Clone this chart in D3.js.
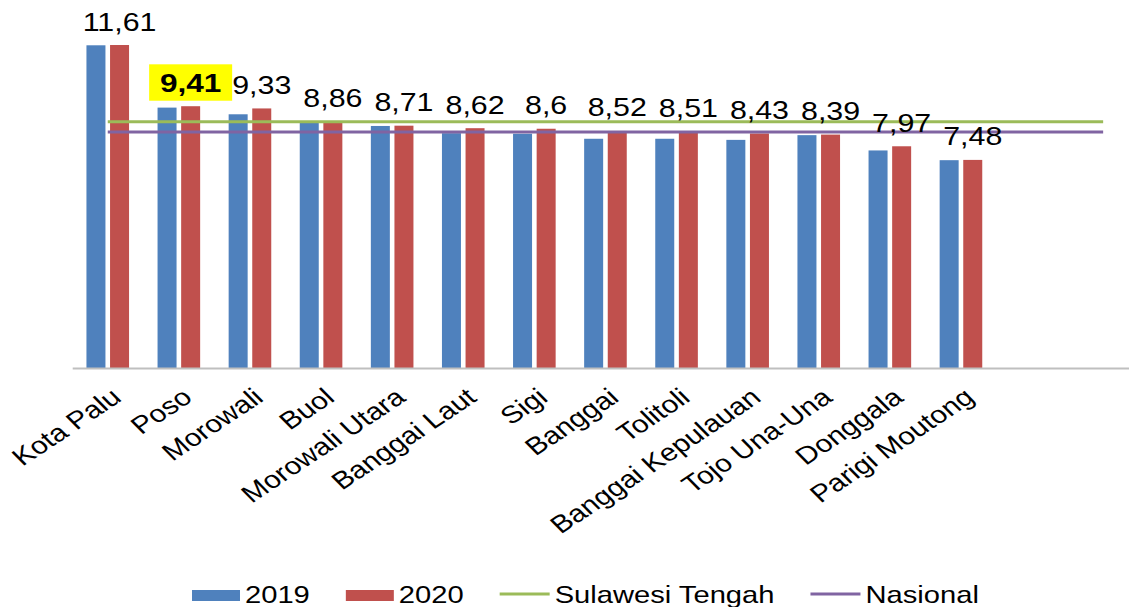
<!DOCTYPE html>
<html>
<head>
<meta charset="utf-8">
<script src="https://cdn.jsdelivr.net/npm/d3@7"></script>
<style>
  html, body { margin: 0; padding: 0; background: #fff; }
  svg { display: block; }
  text { font-family: "Liberation Sans", Arial, Helvetica, sans-serif; fill: #000; }
</style>
</head>
<body>
<svg id="chart" width="1129" height="607"></svg>
<script>
// Rata-rata lama sekolah per kabupaten/kota, Sulawesi Tengah
const categories = ["Kota Palu", "Poso", "Morowali", "Buol", "Morowali Utara", "Banggai Laut",
  "Sigi", "Banggai", "Tolitoli", "Banggai Kepulauan", "Tojo Una-Una", "Donggala", "Parigi Moutong", "", ""];
const values2019 = [11.60, 9.36, 9.12, 8.82, 8.70, 8.44, 8.42, 8.24, 8.24, 8.20, 8.37, 7.82, 7.47];
const values2020 = [11.61, 9.41, 9.33, 8.86, 8.71, 8.62, 8.60, 8.52, 8.51, 8.43, 8.39, 7.97, 7.48];
const sulawesiTengah = [8.85, 8.85, 8.85, 8.85, 8.85, 8.85, 8.85, 8.85, 8.85, 8.85, 8.85, 8.85, 8.85, 8.85, 8.85];
const nasional = [8.48, 8.48, 8.48, 8.48, 8.48, 8.48, 8.48, 8.48, 8.48, 8.48, 8.48, 8.48, 8.48, 8.48, 8.48];
const barSeries = ["2019", "2020"];
const lineSeries = ["Sulawesi Tengah", "Nasional"];
const highlighted = ["Poso"];

const colors = { "2019": "#4F81BD", "2020": "#C0504D", "Sulawesi Tengah": "#9BBB59", "Nasional": "#8064A2" };
const SX = 1.215;               // horizontal text stretch

const svg = d3.select("#chart");
const idx = d3.range(categories.length);

const x = d3.scaleBand().domain(idx).range([72.2, 1138.7]).paddingInner(0).paddingOuter(0);
const xs = d3.scaleBand().domain(barSeries).range([14.25, 56.85]).paddingInner(0.195).paddingOuter(0);
const y = d3.scaleLinear().domain([0, 12]).range([368, 368 - 12 * 27.82]);

const barData = values2019.map((v, i) => ({ i, name: categories[i], "2019": v, "2020": values2020[i] }));

// bars
const groups = svg.append("g").selectAll("g")
  .data(barData).join("g")
  .attr("transform", d => `translate(${x(d.i)},0)`);
groups.selectAll("rect")
  .data(d => barSeries.map(k => ({ k, v: d[k] })))
  .join("rect")
  .attr("x", d => xs(d.k))
  .attr("width", xs.bandwidth())
  .attr("y", d => y(d.v))
  .attr("height", d => y(0) - y(d.v))
  .attr("fill", d => colors[d.k]);

// category axis
const axis = svg.append("g").attr("transform", `translate(0,${y(0)})`)
  .call(d3.axisBottom(x).tickSize(0).tickFormat(""));
axis.select(".domain").attr("stroke", "#BFBFBF").attr("stroke-width", 2);

svg.append("g").selectAll("text")
  .data(idx.filter(i => categories[i] !== "")).join("text")
  .attr("transform", i => `translate(${x(i) + x.bandwidth() / 2 + 15},400) scale(${SX},1) rotate(-39)`)
  .attr("text-anchor", "end")
  .style("font-size", "24.5px")
  .text(i => categories[i]);

// reference lines
const line = d3.line().x((d, i) => x(i) + x.bandwidth() / 2).y(d => y(d));
[["Sulawesi Tengah", sulawesiTengah], ["Nasional", nasional]].forEach(([name, vals]) => {
  svg.append("path").datum(vals)
    .attr("d", line)
    .attr("fill", "none")
    .attr("stroke", colors[name])
    .attr("stroke-width", 3);
});

// value labels on the 2020 bars
const labels = svg.append("g");
barData.forEach(d => {
  const cx = x(d.i) + xs("2020") + xs.bandwidth() / 2;
  const by = y(d["2020"]) - 14.5;
  const hl = highlighted.includes(d.name);
  if (hl) {
    labels.append("rect")
      .attr("x", cx - 41.5).attr("y", by - 27.4)
      .attr("width", 83).attr("height", 36.4)
      .attr("fill", "#FFFF00");
  }
  labels.append("text")
    .attr("transform", `translate(${cx},${by}) scale(${SX},1)`)
    .attr("text-anchor", "middle")
    .style("font-size", hl ? "26px" : "25px")
    .style("font-weight", hl ? "bold" : "normal")
    .text(String(d["2020"]).replace(".", ","));
});

// legend
const legend = svg.append("g");
let lx = 192;
const legendItems = barSeries.map(k => ({ k, type: "bar" })).concat(lineSeries.map(k => ({ k, type: "line" })));
legendItems.forEach(item => {
  if (item.type === "bar") {
    legend.append("rect").attr("x", lx).attr("y", 590).attr("width", 48).attr("height", 11)
      .attr("fill", colors[item.k]);
  } else {
    legend.append("line").attr("x1", lx).attr("x2", lx + 50).attr("y1", 594).attr("y2", 594)
      .attr("stroke", colors[item.k]).attr("stroke-width", 3);
  }
  const tx = lx + (item.type === "bar" ? 53 : 55);
  const t = legend.append("text")
    .attr("transform", `translate(${tx},603) scale(${SX},1)`)
    .style("font-size", "24px")
    .text(item.k);
  const w = t.node().getComputedTextLength() * SX;
  lx = tx + w + 36;
});
</script>
</body>
</html>
